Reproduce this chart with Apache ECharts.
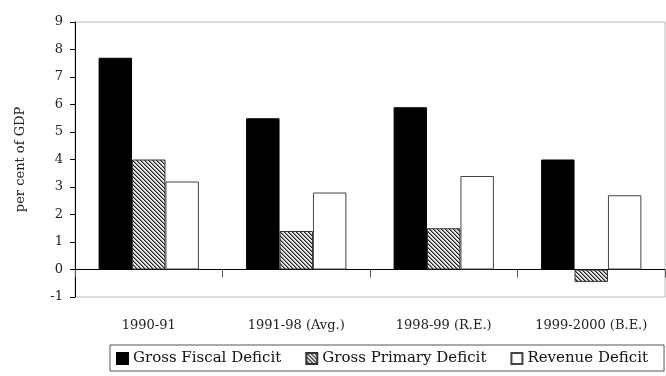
<!DOCTYPE html>
<html>
<head>
<meta charset="utf-8">
<script src="https://cdn.jsdelivr.net/npm/echarts@6/dist/echarts.min.js"></script>
<style>
  html, body { margin: 0; padding: 0; background: #fff; }
  #chart { width: 666px; height: 376px; }
</style>
</head>
<body>
<div id="chart"></div>
<script>
const categories = ["1990-91", "1991-98 (Avg.)", "1998-99 (R.E.)", "1999-2000 (B.E.)"];
const grossFiscal = [7.7, 5.5, 5.9, 4.0];
const grossPrimary = [4.0, 1.4, 1.5, -0.45];
const revenue = [3.2, 2.8, 3.4, 2.7];

// small diagonal hatch tile for the primary deficit bars
const tile = document.createElement("canvas");
tile.width = 4;
tile.height = 4;
const tctx = tile.getContext("2d");
tctx.fillStyle = "#e8e8e8";
tctx.fillRect(0, 0, 4, 4);
tctx.fillStyle = "#222";
for (let i = 0; i < 4; i++) tctx.fillRect(i, i, 1, 1);
tctx.fillStyle = "#888";
for (let i = 0; i < 4; i++) tctx.fillRect((i + 1) % 4, i, 1, 1);

const font = "DejaVu Serif";
const chart = echarts.init(document.getElementById("chart"));
chart.setOption({
  animation: false,
  grid: {
    left: 75, right: 1, top: 22, bottom: 79,
    show: true, borderColor: "#bbb", borderWidth: 1
  },
  legend: {
    left: 110, top: 345,
    padding: [6, 16, 5, 6],
    borderColor: "#555", borderWidth: 1,
    icon: "rect",
    itemWidth: 11, itemHeight: 11, itemGap: 24,
    textStyle: { fontFamily: font, fontSize: 15, color: "#111" },
    data: ["Gross Fiscal Deficit", "Gross Primary Deficit", "Revenue Deficit"]
  },
  xAxis: {
    type: "category",
    data: categories,
    axisLine: { onZero: true, lineStyle: { color: "#000", width: 1 } },
    axisTick: { show: true, length: 8, lineStyle: { color: "#555" } },
    axisLabel: { margin: 22, fontFamily: font, fontSize: 13, color: "#222" },
    splitLine: { show: false }
  },
  yAxis: {
    type: "value",
    min: -1, max: 9, interval: 1,
    name: "per cent of GDP",
    nameLocation: "middle",
    nameGap: 48,
    nameTextStyle: { fontFamily: font, fontSize: 13, color: "#222" },
    axisLine: { show: true, lineStyle: { color: "#000" } },
    axisTick: { show: true, length: 5, lineStyle: { color: "#000" } },
    axisLabel: { margin: 12, fontFamily: font, fontSize: 13, color: "#222" },
    splitLine: { show: false }
  },
  series: [
    {
      name: "Gross Fiscal Deficit",
      type: "bar",
      barGap: "0%",
      barCategoryGap: "32%",
      itemStyle: { color: "#000", borderColor: "#000", borderWidth: 1 },
      data: grossFiscal
    },
    {
      name: "Gross Primary Deficit",
      type: "bar",
      itemStyle: {
        color: { image: tile, repeat: "repeat" },
        borderColor: "#333", borderWidth: 1
      },
      data: grossPrimary
    },
    {
      name: "Revenue Deficit",
      type: "bar",
      itemStyle: { color: "#fff", borderColor: "#444", borderWidth: 1 },
      data: revenue
    }
  ]
});
</script>
</body>
</html>
